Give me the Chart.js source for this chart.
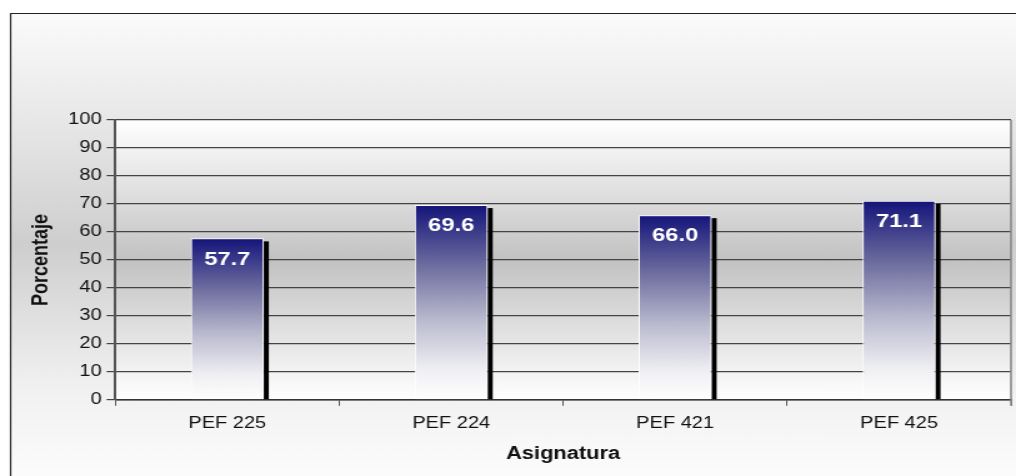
<!doctype html>
<html lang="es">
<head>
    <meta charset="UTF-8">
    <title>Porcentaje por asignatura</title>
    <style>
        html, body { margin: 0; padding: 0; background: #fff; overflow: hidden; }
        #chart-box { width: 1016px; height: 476px; }
    </style>
</head>
<body>
    <div id="chart-box">
        <!-- el original esta estirado a lo ancho: se dibuja a 813px y se estira a 1016px -->
        <canvas id="my-chart" width="813" height="476" style="width: 1016px; height: 476px;"></canvas>
    </div>
<script src="https://cdn.jsdelivr.net/npm/chart.js@4/dist/chart.umd.min.js"></script>
<script>

    let asignaturas = ["PEF 225", "PEF 224", "PEF 421", "PEF 425"];
    let porcentajes = [57.7, 69.6, 66.0, 71.1];
    let yMin = 0;
    let yMax = 100;
    let yStep = 10;

    let fuente = "'Liberation Sans', Arial, sans-serif";

    // fondo gris degradado + marco, como el grafico original de Excel
    let fondo = {
        id: 'fondo',
        beforeDraw(chart) {
            let ctx = chart.ctx;
            let a = chart.chartArea;
            ctx.save();
            ctx.fillStyle = '#ffffff';
            ctx.fillRect(0, 0, chart.width, chart.height);

            let g = ctx.createLinearGradient(0, 13, 0, chart.height);
            g.addColorStop(0, '#fbfbfb');
            g.addColorStop(0.25, '#e6e6e6');
            g.addColorStop(0.5, '#cecece');
            g.addColorStop(0.8, '#f0f0f0');
            g.addColorStop(1, '#fcfcfc');
            ctx.fillStyle = g;
            ctx.fillRect(8, 13, chart.width - 8, chart.height - 13);

            ctx.strokeStyle = '#222';
            ctx.lineWidth = 1.2;
            ctx.beginPath();
            ctx.moveTo(8.5, chart.height);
            ctx.lineTo(8.5, 13.5);
            ctx.lineTo(chart.width, 13.5);
            ctx.stroke();

            let g2 = ctx.createLinearGradient(0, a.top, 0, a.bottom);
            g2.addColorStop(0, '#ffffff');
            g2.addColorStop(0.5, '#c2c2c2');
            g2.addColorStop(1, '#ffffff');
            ctx.fillStyle = g2;
            ctx.fillRect(a.left, a.top, a.right - a.left, a.bottom - a.top);
            ctx.restore();
        },
        afterDraw(chart) {
            let ctx = chart.ctx;
            let a = chart.chartArea;
            ctx.save();
            ctx.strokeStyle = '#888';
            ctx.lineWidth = 1.6;
            ctx.beginPath();
            ctx.moveTo(a.right, a.top);
            ctx.lineTo(a.right, a.bottom + 6);
            ctx.stroke();
            ctx.restore();
        }
    };

    // sombra negra a la derecha de cada barra
    let sombra = {
        id: 'sombra',
        beforeDatasetsDraw(chart) {
            let ctx = chart.ctx;
            let meta = chart.getDatasetMeta(0);
            ctx.save();
            ctx.fillStyle = '#000';
            meta.data.forEach(bar => {
                let right = bar.x + bar.width / 2;
                ctx.fillRect(right, bar.y + 3, 4, bar.base - bar.y - 3);
            });
            ctx.restore();
        }
    };

    // valores dentro de la barra
    let etiquetas = {
        id: 'etiquetas',
        afterDatasetsDraw(chart) {
            let ctx = chart.ctx;
            let meta = chart.getDatasetMeta(0);
            ctx.save();
            ctx.fillStyle = '#fff';
            ctx.font = 'bold 19px ' + fuente;
            ctx.textAlign = 'center';
            ctx.textBaseline = 'middle';
            meta.data.forEach((bar, i) => {
                ctx.fillText(porcentajes[i].toFixed(1), bar.x, bar.y + 21);
            });
            ctx.restore();
        }
    };

    function degradadoBarra(context) {
        let chart = context.chart;
        let y = chart.scales.y;
        if (!y || context.dataIndex === undefined) return '#1a1a7a';
        let top = y.getPixelForValue(porcentajes[context.dataIndex]);
        let bottom = y.getPixelForValue(0);
        if (!isFinite(top) || !isFinite(bottom) || top === bottom) return '#1a1a7a';
        let g = chart.ctx.createLinearGradient(0, top, 0, bottom);
        g.addColorStop(0, '#14147a');
        g.addColorStop(0.3, '#6a6a9e');
        g.addColorStop(0.6, '#bcbcd0');
        g.addColorStop(0.85, '#f0f0f4');
        g.addColorStop(1, '#ffffff');
        return g;
    }

    let config = {
        type: 'bar',
        data: {
            labels: asignaturas,
            datasets: [{
                label: 'Porcentaje',
                data: porcentajes,
                backgroundColor: degradadoBarra,
                borderColor: '#ffffff',
                borderWidth: 1,
                borderSkipped: false,
                categoryPercentage: 1,
                barPercentage: 0.326
            }]
        },
        options: {
            responsive: false,
            animation: false,
            layout: {
                padding: { left: 18, top: 120, right: 4, bottom: 7 }
            },
            plugins: {
                legend: { display: false },
                tooltip: { enabled: false }
            },
            scales: {
                x: {
                    grid: {
                        drawOnChartArea: false,
                        drawTicks: true,
                        tickLength: 6,
                        color: '#555'
                    },
                    border: { display: true, color: '#333', width: 1.5 },
                    ticks: {
                        color: '#111',
                        font: { family: fuente, size: 16 },
                        padding: 8
                    },
                    title: {
                        display: true,
                        text: 'Asignatura',
                        color: '#111',
                        font: { family: fuente, size: 17.5, weight: 'bold' },
                        padding: { top: 3, bottom: 4 }
                    }
                },
                y: {
                    min: yMin,
                    max: yMax,
                    grid: {
                        color: '#444',
                        lineWidth: 1.2,
                        tickLength: 7
                    },
                    border: { display: true, color: '#555', width: 2 },
                    ticks: {
                        stepSize: yStep,
                        color: '#111',
                        font: { family: fuente, size: 16 },
                        padding: 4
                    },
                    title: {
                        display: true,
                        text: 'Porcentaje',
                        color: '#111',
                        font: { family: fuente, size: 18, weight: 'bold' },
                        padding: { top: 4, bottom: 7 }
                    }
                }
            }
        },
        plugins: [fondo, sombra, etiquetas]
    };

    let myChart = new Chart(document.getElementById('my-chart'), config);

</script>
</body>
</html>
